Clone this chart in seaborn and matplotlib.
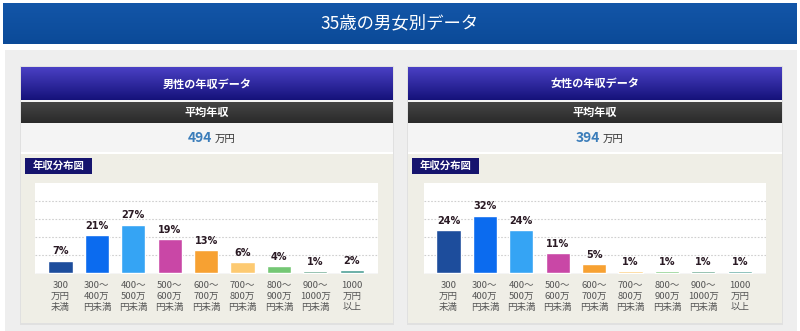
import numpy as np
import pandas as pd
import matplotlib
matplotlib.use("Agg")
import matplotlib.pyplot as plt
import seaborn as sns
from matplotlib.colors import to_rgb

# ---------------- data ----------------
categories = ["300\n万円\n未満", "300〜\n400万\n円未満", "400〜\n500万\n円未満",
              "500〜\n600万\n円未満", "600〜\n700万\n円未満", "700〜\n800万\n円未満",
              "800〜\n900万\n円未満", "900〜\n1000万\n円未満", "1000\n万円\n以上"]
male_pct = [7, 21, 27, 19, 13, 6, 4, 1, 2]
female_pct = [24, 32, 24, 11, 5, 1, 1, 1, 1]
bar_colors = ["#1d4d9c", "#0b6bef", "#35a4f4", "#c947a6", "#f7a132",
              "#fdca72", "#74c774", "#5a9f83", "#4c9f95"]
main_title = "35歳の男女別データ"
panel_titles = ["男性の年収データ", "女性の年収データ"]
avg_label = "平均年収"
avg_values = ["494", "394"]
avg_unit = "万円"
dist_label = "年収分布図"

sns.set_theme(style="white")
plt.rcParams["font.family"] = ["Noto Sans CJK JP", "DejaVu Sans"]

W, H = 800, 331
fig = plt.figure(figsize=(W / 100, H / 100), dpi=100)
fig.patch.set_facecolor("white")

bg = fig.add_axes([0, 0, 1, 1], zorder=-1)
bg.set_axis_off()

_z = [1]


def nz():
    _z[0] += 1
    return _z[0]


def rect(x0, y0, x1, y1, color):
    bg.add_patch(plt.Rectangle((x0, y0), x1 - x0, y1 - y0, facecolor=color,
                               edgecolor="none", lw=0, zorder=nz()))


def grad(x0, y0, x1, y1, c_top, c_bot):
    a = np.array(to_rgb(c_top))
    b = np.array(to_rgb(c_bot))
    t = np.linspace(0, 1, 64)[:, None]
    img = (a * (1 - t) + b * t)[:, None, :]
    bg.imshow(img, extent=(x0, x1, y1, y0), aspect="auto", origin="upper",
              interpolation="bilinear", zorder=nz())


def txt(x, y, s, **kw):
    bg.text(x, y, s, zorder=500, **kw)


# title bar
grad(3, 3, 797, 44, "#1356a8", "#0b4a98")
txt(400, 23, main_title, color="white", fontsize=12.5, ha="center", va="center")

# outer panel
rect(5, 50, 797, 331, "#eeeeee")

cards = [(21, 393), (408, 782)]
for (cx0, cx1), ptitle, aval in zip(cards, panel_titles, avg_values):
    rect(cx0 - 1, 66, cx1 + 1, 325, "#e0e0e0")
    grad(cx0, 67, cx1, 100, "#4a40c4", "#15127a")
    rect(cx0, 100, cx1, 102, "#f4f4f4")
    grad(cx0, 102, cx1, 123, "#454545", "#2a2a2a")
    rect(cx0, 123, cx1, 152, "#f4f4f4")
    rect(cx0, 152, cx1, 154, "#ffffff")
    rect(cx0, 154, cx1, 323, "#efeee6")
    mid = (cx0 + cx1) / 2
    txt(mid, 84, ptitle, color="white", fontsize=8, fontweight="bold",
        ha="center", va="center")
    txt(mid, 112.5, avg_label, color="white", fontsize=8, fontweight="bold",
        ha="center", va="center")
    txt(mid + 5, 138, aval, color="#3b7dba", fontsize=10, fontweight="bold",
        ha="right", va="center")
    txt(mid + 8, 138.5, avg_unit, color="#333333", fontsize=7.5,
        ha="left", va="center")
    rect(cx0 + 4, 158, cx0 + 71, 174, "#16146e")
    txt(cx0 + 37.5, 166, dist_label, color="white", fontsize=7.5,
        fontweight="bold", ha="center", va="center")

bg.set_xlim(0, W)
bg.set_ylim(H, 0)

# ---------------- bar charts ----------------
plot_boxes = [(35, 378), (424, 766)]
series = [male_pct, female_pct]
y_top, y_bot = 183, 274
for (px0, px1), vals in zip(plot_boxes, series):
    ax = fig.add_axes([px0 / W, (H - y_bot) / H, (px1 - px0) / W, (y_bot - y_top) / H])
    ax.set_facecolor("white")
    df = pd.DataFrame({"cat": categories, "pct": vals})
    sns.barplot(data=df, x="cat", y="pct", hue="cat", palette=bar_colors,
                order=categories, hue_order=categories, legend=False,
                width=0.66, saturation=1, ax=ax, zorder=3)
    first_off = (24.5 if px0 > 400 else 25.5) / 36.4
    ax.set_xlim(-first_off, -first_off + (px1 - px0) / 36.4)
    ax.set_ylim(-0.4, 50)
    for g in (10, 20, 30, 40):
        ax.axhline(g, color="#cfcfcf", lw=0.8, ls=(0, (1.5, 1.5)), zorder=1)
    ax.axhline(-0.2, color="#d0d0d0", lw=1.0, zorder=2)
    for i, v in enumerate(vals):
        ax.annotate(f"{v}%", (i, v), xytext=(0, 3), textcoords="offset points",
                    ha="center", va="bottom", fontsize=7, fontweight="bold",
                    color="#2a1a24", family="DejaVu Sans")
    ax.set_yticks([])
    ax.set_xlabel("")
    ax.set_ylabel("")
    ax.tick_params(axis="x", length=0, pad=5, labelsize=6.8, labelcolor="#555555")
    for lbl in ax.get_xticklabels():
        lbl.set_linespacing(1.3)
    for s in ax.spines.values():
        s.set_visible(False)

fig.savefig("out.png", dpi=100)
